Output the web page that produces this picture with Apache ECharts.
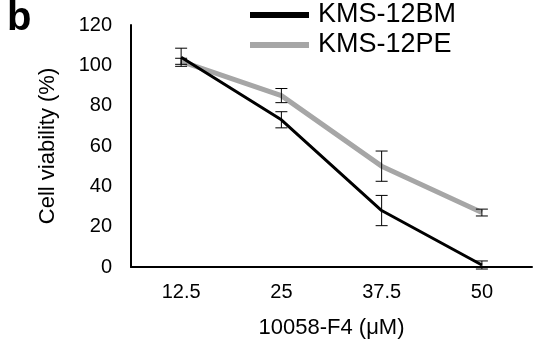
<!DOCTYPE html>
<html>
<head>
<meta charset="utf-8">
<script src="https://cdn.jsdelivr.net/npm/echarts@6/dist/echarts.min.js"></script>
<style>
  html, body { margin: 0; padding: 0; background: #fff; }
  #chart { width: 534px; height: 344px; }
</style>
</head>
<body>
<div id="chart"></div>
<script>
// dose (uM) categories
var doses = ['12.5', '25', '37.5', '50'];
// viability (%) means and errors
var bmMean = [104, 73, 28, 1];
var bmErr = [4.5, 4, 7.5, 2];
var peMean = [102, 85, 50, 27];
var peErr = [1.5, 3.5, 7.5, 1.7];
var yTicks = [0, 20, 40, 60, 80, 100, 120];

var font = 'Arial, "Liberation Sans", sans-serif';

function errData(mean, err) {
  var out = [];
  for (var i = 0; i < mean.length; i++) {
    out.push([i, mean[i], err[i]]);
  }
  return out;
}

// error bar with caps
function renderErr(params, api) {
  var x = api.value(0), m = api.value(1), e = api.value(2);
  var top = api.coord([x, m + e]);
  var bot = api.coord([x, m - e]);
  var hw = 6;
  var st = { stroke: '#000', lineWidth: 1 };
  return {
    type: 'group',
    children: [
      { type: 'line', shape: { x1: top[0], y1: top[1], x2: bot[0], y2: bot[1] }, style: st },
      { type: 'line', shape: { x1: top[0] - hw, y1: top[1], x2: top[0] + hw, y2: top[1] }, style: st },
      { type: 'line', shape: { x1: bot[0] - hw, y1: bot[1], x2: bot[0] + hw, y2: bot[1] }, style: st }
    ]
  };
}

var myChart = echarts.init(document.getElementById('chart'));

var option = {
  backgroundColor: '#fff',
  animation: false,
  textStyle: { fontFamily: font },
  graphic: [{
    type: 'text',
    left: 7,
    top: -1,
    style: { text: 'b', font: 'bold 40px ' + font, fill: '#000' }
  }],
  legend: {
    orient: 'vertical',
    left: 250,
    top: 0,
    padding: 0,
    itemWidth: 59,
    itemHeight: 6,
    itemGap: 0,
    icon: 'rect',
    textStyle: { fontSize: 27, lineHeight: 30, color: '#000', fontFamily: font, padding: [0, 0, 0, 4] },
    data: [
      { name: 'KMS-12BM', itemStyle: { color: '#000' } },
      { name: 'KMS-12PE', itemStyle: { color: '#a6a6a6' } }
    ]
  },
  grid: { left: 131, right: 2, top: 25, bottom: 76 },
  xAxis: {
    type: 'category',
    data: doses,
    boundaryGap: true,
    name: '10058-F4 (μM)',
    nameLocation: 'middle',
    nameGap: 50,
    nameTextStyle: { fontSize: 22, color: '#000' },
    axisLine: { lineStyle: { color: '#000', width: 2 } },
    axisTick: { show: false },
    axisLabel: { fontSize: 20, color: '#000', margin: 15 }
  },
  yAxis: {
    type: 'value',
    min: yTicks[0],
    max: yTicks[yTicks.length - 1],
    interval: 20,
    name: 'Cell viability (%)',
    nameLocation: 'middle',
    nameGap: 72,
    nameTextStyle: { fontSize: 22, color: '#000' },
    axisLine: { show: true, lineStyle: { color: '#000', width: 2 } },
    axisTick: { show: false },
    splitLine: { show: false },
    axisLabel: { fontSize: 20, color: '#000', margin: 19 }
  },
  series: [
    {
      name: 'KMS-12PE',
      type: 'line',
      data: peMean,
      showSymbol: false,
      symbol: 'none',
      lineStyle: { color: '#a6a6a6', width: 5 },
      itemStyle: { color: '#a6a6a6' },
      z: 2
    },
    {
      name: 'KMS-12BM',
      type: 'line',
      data: bmMean,
      showSymbol: false,
      symbol: 'none',
      lineStyle: { color: '#000', width: 3 },
      itemStyle: { color: '#000' },
      z: 3
    },
    {
      type: 'custom',
      renderItem: renderErr,
      data: errData(bmMean, bmErr),
      z: 4
    },
    {
      type: 'custom',
      renderItem: renderErr,
      data: errData(peMean, peErr),
      z: 4
    }
  ]
};

myChart.setOption(option, true);
</script>
</body>
</html>
